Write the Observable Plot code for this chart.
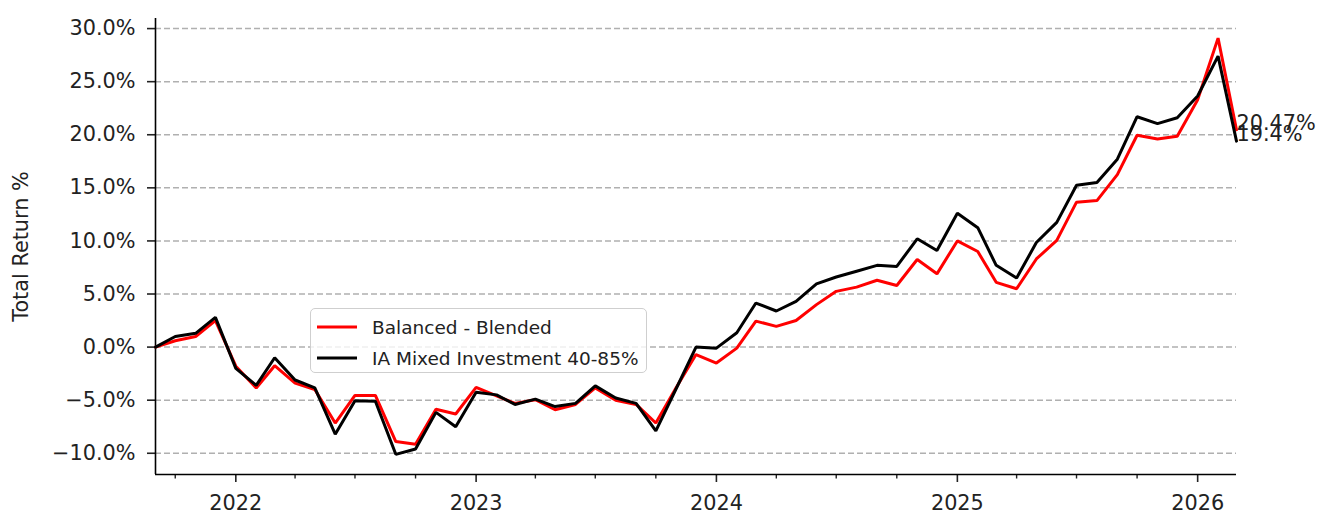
<!DOCTYPE html>
<html>
<head>
<meta charset="utf-8">
<script src="https://cdn.jsdelivr.net/npm/d3@7"></script>
<script src="https://cdn.jsdelivr.net/npm/@observablehq/plot@0.6"></script>
<style>
  html, body { margin: 0; padding: 0; background: #fff; }
  #wrap { position: relative; width: 1319px; height: 512px; font-family: "DejaVu Sans", sans-serif; }
  #legend {
    position: absolute; left: 310px; top: 308px; width: 335px; height: 63px;
    border: 1.5px solid #cfcfcf; border-radius: 5px; background: rgba(255,255,255,0.8);
    font-size: 18.5px; color: #222;
  }
  #legend .row { position: absolute; left: 0; height: 20px; display: flex; align-items: center; }
  #legend .row svg { margin-left: 6px; margin-right: 15px; }
</style>
</head>
<body>
<div id="wrap"></div>
<script>
// ---- data ----
const months = [
  "2021-09","2021-10","2021-11","2021-12",
  "2022-01","2022-02","2022-03","2022-04","2022-05","2022-06","2022-07","2022-08","2022-09","2022-10","2022-11","2022-12",
  "2023-01","2023-02","2023-03","2023-04","2023-05","2023-06","2023-07","2023-08","2023-09","2023-10","2023-11","2023-12",
  "2024-01","2024-02","2024-03","2024-04","2024-05","2024-06","2024-07","2024-08","2024-09","2024-10","2024-11","2024-12",
  "2025-01","2025-02","2025-03","2025-04","2025-05","2025-06","2025-07","2025-08","2025-09","2025-10","2025-11","2025-12",
  "2026-01","2026-02","2026-03"
];
const balancedBlended = [
  0.0, 0.6, 1.0, 2.5,
  -1.8, -3.85, -1.75, -3.4, -4.0, -7.15, -4.55, -4.55, -8.9, -9.15, -5.85, -6.3,
  -3.8, -4.6, -5.3, -4.95, -5.9, -5.4, -3.85, -5.0, -5.4, -7.15, -3.8, -0.7,
  -1.5, -0.1, 2.45, 1.95, 2.5, 4.0, 5.25, 5.65, 6.3, 5.8, 8.25, 6.9,
  10.0, 9.0, 6.1, 5.5, 8.3, 10.05, 13.65, 13.8, 16.25, 19.95, 19.6, 19.85,
  23.3, 29.1, 20.47
];
const iaMixed = [
  0.0, 1.0, 1.3, 2.8,
  -2.0, -3.6, -1.0, -3.1, -3.85, -8.2, -5.05, -5.1, -10.1, -9.6, -6.15, -7.5,
  -4.25, -4.5, -5.4, -4.9, -5.6, -5.3, -3.65, -4.8, -5.3, -7.9, -3.9, 0.0,
  -0.1, 1.35, 4.15, 3.4, 4.3, 5.95, 6.6, 7.15, 7.7, 7.6, 10.2, 9.1,
  12.6, 11.25, 7.7, 6.5, 9.85, 11.75, 15.25, 15.5, 17.7, 21.7, 21.05, 21.6,
  23.65, 27.4, 19.4
];
const seriesNames = ["Balanced - Blended", "IA Mixed Investment 40-85%"];
const seriesColors = ["#ff0000", "#000000"];
const yTicks = [-10, -5, 0, 5, 10, 15, 20, 25, 30];
const yLabel = "Total Return %";

// ---- build ----
const parse = d3.utcParse("%Y-%m");
const dates = months.map(parse);
const allSeries = [balancedBlended, iaMixed];
const rows = [];
allSeries.forEach((vals, i) => vals.forEach((v, j) => rows.push({date: dates[j], value: v, series: seriesNames[i]})));
const lastRows = allSeries.map((vals, i) => ({date: dates[dates.length - 1], value: vals[vals.length - 1], series: seriesNames[i]}));

const xDomain = [dates[0], dates[dates.length - 1]];
const yDomain = [-12.0, 30.95];
const yearTicks = d3.utcYear.range(d3.utcYear.ceil(xDomain[0]), xDomain[1]);
const minorTicks = d3.utcMonth.every(3).range(xDomain[0], xDomain[1]).filter(d => d.getUTCMonth() !== 0);
const fmtPct = d => (d < 0 ? "\u2212" : "") + Math.abs(d).toFixed(1) + "%";

const FS = 20.8;
const chart = Plot.plot({
  width: 1319,
  height: 512,
  marginLeft: 155,
  marginRight: 83,
  marginTop: 18,
  marginBottom: 38,
  style: {fontFamily: "DejaVu Sans, sans-serif", fontSize: FS + "px", color: "#222", background: "#fff"},
  x: {type: "utc", domain: xDomain},
  y: {domain: yDomain},
  marks: [
    Plot.gridY(yTicks, {stroke: "#b0b0b0", strokeOpacity: 1, strokeWidth: 1.5, strokeDasharray: "6,3"}),
    Plot.axisY(yTicks, {tickSize: 8, tickPadding: 12, tickFormat: fmtPct, strokeWidth: 1.6, fontSize: FS,
      label: yLabel, labelAnchor: "center", labelArrow: "none", labelOffset: 142}),
    Plot.axisX(yearTicks, {tickSize: 8, tickPadding: 13, tickFormat: d3.utcFormat("%Y"), strokeWidth: 1.6, fontSize: FS, label: null}),
    Plot.axisX(minorTicks, {tickSize: 4.5, tickFormat: () => "", strokeWidth: 1.4, label: null}),
    Plot.ruleX([xDomain[0]], {stroke: "#000", strokeWidth: 1.6}),
    Plot.ruleY([yDomain[0]], {stroke: "#000", strokeWidth: 1.6}),
    ...seriesNames.map((name, i) =>
      Plot.line(rows.filter(r => r.series === name), {x: "date", y: "value", stroke: seriesColors[i], strokeWidth: 3, strokeLinejoin: "miter"})
    ),
    Plot.text(lastRows, {x: "date", y: "value", text: d => `${d.value}%`, textAnchor: "start", lineAnchor: "bottom", fill: "#222", fontSize: FS})
  ]
});

const wrap = document.getElementById("wrap");
wrap.appendChild(chart);

// legend overlay (inside the axes, like the reference)
const legend = document.createElement("div");
legend.id = "legend";
seriesNames.forEach((name, i) => {
  const row = document.createElement("div");
  row.className = "row";
  row.style.top = (i === 0 ? 8 : 39) + "px";
  row.innerHTML = `<svg width="40" height="6"><line x1="0" x2="40" y1="3" y2="3" stroke="${seriesColors[i]}" stroke-width="3"/></svg><span>${name}</span>`;
  legend.appendChild(row);
});
wrap.appendChild(legend);
</script>
</body>
</html>
